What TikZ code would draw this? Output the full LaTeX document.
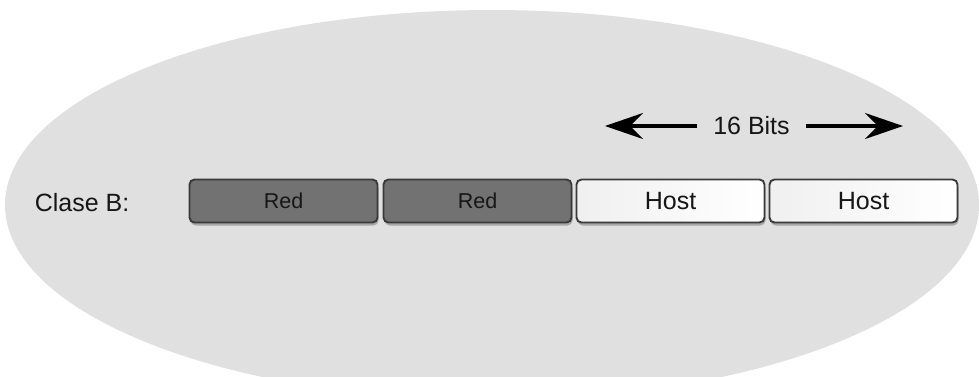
\documentclass[tikz,border=0pt]{standalone}
\usepackage{fontspec}
\setmainfont{Liberation Sans}
\usetikzlibrary{arrows.meta,shadows}
\definecolor{oval}{HTML}{E0E0E0}
\definecolor{netfill}{HTML}{727272}
\definecolor{edge}{HTML}{3A3A3A}
\definecolor{ink}{HTML}{161616}
\tikzset{
  field/.style={draw=edge, line width=1.9pt, rounded corners=5pt,
    minimum width=188pt, minimum height=43pt, inner sep=0pt,
    drop shadow={shadow xshift=1pt, shadow yshift=-3pt, fill=black, opacity=0.25},
    text=ink},
  netfield/.style={field, fill=netfill, font=\fontsize{21.5}{24}\selectfont},
  hostfield/.style={field, left color=gray!12, right color=white,
    font=\fontsize{25}{28}\selectfont},
  label/.style={text=ink, font=\fontsize{25}{28}\selectfont, inner sep=0pt},
  bigarrow/.style={draw=black, line width=3.4pt,
    -{Stealth[length=38pt, width=26pt, inset=13pt]}}
}
\begin{document}
\begin{tikzpicture}[x=1pt, y=-1pt]
  \useasboundingbox (0,0) rectangle (979,376);
  \fill[white] (0,0) rectangle (979,376);
  % grey oval backdrop, cut by the page edges
  \begin{scope}
    \clip (0,0) rectangle (979,376);
    \fill[oval] (492,205) ellipse [x radius=487, y radius=195];
  \end{scope}

  % class label
  \node[label] (cls) at (82,203) {Clase B:};

  % the four octets
  \node[netfield]  (n1) at (283.5,201) {Red};
  \node[netfield]  (n2) at (477.5,201) {Red};
  \node[hostfield] (h1) at (670.5,201) {Host};
  \node[hostfield] (h2) at (863.5,201) {Host};

  % width marker over the host part
  \node[label, inner xsep=16pt] (bits) at (751.5,126) {16 Bits};
  \coordinate (ltip) at (605,126);
  \coordinate (rtip) at (903,126);
  \draw[bigarrow] (bits.west) -- (ltip);
  \draw[bigarrow] (bits.east) -- (rtip);
\end{tikzpicture}
\end{document}
